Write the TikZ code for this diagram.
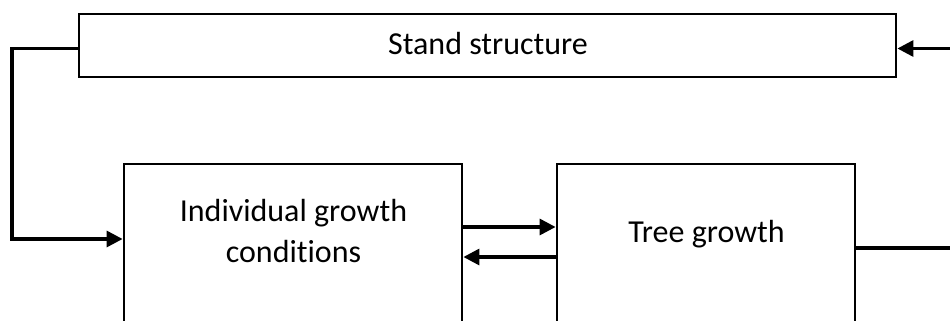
\documentclass[tikz,border=0pt]{standalone}
\usepackage{fontspec}
\setmainfont{Carlito}[Ligatures={NoCommon}]
\usetikzlibrary{arrows.meta}
\begin{document}
\begin{tikzpicture}[x=1pt,y=-1pt,
  box/.style={draw=black,line width=2.8pt,rectangle,inner sep=0pt,fill=white},
  lbl/.style={font=\fontsize{32}{41}\selectfont,align=center,inner sep=0pt},
  conn/.style={draw=black,line width=3.2pt},
  arr/.style={conn,-{Triangle[length=16pt,width=16pt]}}]
\useasboundingbox (0,0) rectangle (950,321);
\clip (0,0) rectangle (950,321);
\fill[white] (0,0) rectangle (950,321);
\node[box,minimum width=817pt,minimum height=63pt] (stand) at (487.5,45.5) {};
\node[box,minimum width=338pt,minimum height=176pt] (igc) at (293,252) {};
\node[box,minimum width=298pt,minimum height=176pt] (tree) at (706,252) {};
\node[lbl,anchor=base] (standt) at (488,55) {Stand structure};
\node[lbl] (igct) at (293.5,231) {Individual growth\\conditions};
\node[lbl,anchor=base] (treet) at (706.5,242) {Tree growth};
% left feedback
\draw[arr] ([yshift=-3pt]stand.west) -| (12,200) |- ([yshift=13pt]igc.west);
% middle arrows
\draw[arr] ([yshift=25pt]igc.east) -- ([yshift=25pt]tree.west);
\draw[arr] ([yshift=-5pt]tree.west) -- ([yshift=-5pt]igc.east);
% right feedback
\coordinate (rgt) at (965,248);
\draw[arr] ([yshift=4pt]tree.east) -- (rgt) |- ([yshift=-3pt]stand.east);
\end{tikzpicture}
\end{document}
